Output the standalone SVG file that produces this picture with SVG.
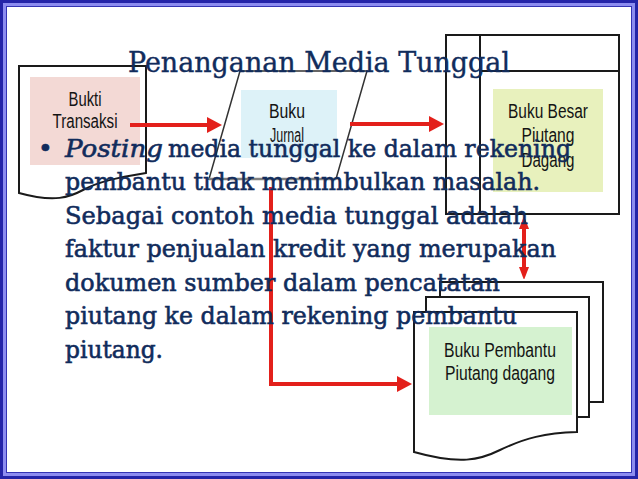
<svg xmlns="http://www.w3.org/2000/svg" width="638" height="479" viewBox="0 0 638 479">
<defs>
<style>
.lbl{font-family:"Liberation Sans",Arial,sans-serif;font-size:20px;fill:#141414;text-anchor:middle}
.shape{fill:#fff;stroke:#1a1a1a;stroke-width:2}
.conn{fill:none;stroke:#e3201b;stroke-width:4}
.body{font-family:"DejaVu Serif","Liberation Serif",serif;font-size:25px;fill:#112c5c;stroke:#112c5c;stroke-width:0.6}
.title{font-family:"DejaVu Serif","Liberation Serif",serif;font-size:28px;fill:#112c5c;stroke:#112c5c;stroke-width:0.4}
</style>
<marker id="ah" markerUnits="userSpaceOnUse" markerWidth="16" markerHeight="18" refX="3" refY="8" orient="auto-start-reverse">
<path d="M0,0 L15,8 L0,16 z" fill="#e3201b"/>
</marker>
<marker id="ahs" markerUnits="userSpaceOnUse" markerWidth="12" markerHeight="14" refX="3" refY="5" orient="auto-start-reverse">
<path d="M0,0 L13,5 L0,10 z" fill="#e3201b"/>
</marker>
</defs>
<rect width="638" height="479" fill="#fff"/>
<g id="frame" fill="none">
<rect x="1.5" y="1.5" width="635" height="476" stroke="#2424a8" stroke-width="3"/>
<rect x="4.5" y="4.5" width="629" height="470" stroke="#8c8cf0" stroke-width="3"/>
<rect x="6.5" y="6.5" width="625" height="466" stroke="#3434b4" stroke-width="1"/>
</g>
<g id="bukti-transaksi">
<path class="shape" d="M19,66 H146 V173 C115,178 98,182 83,190 C70,197 55,203 19,193 Z"/>
<rect x="30" y="77" width="110" height="88" fill="#f3d9d5"/>
<text class="lbl" x="85" y="106" textLength="33" lengthAdjust="spacingAndGlyphs">Bukti</text>
<text class="lbl" x="85" y="128" textLength="65" lengthAdjust="spacingAndGlyphs">Transaksi</text>
</g>
<g id="buku-jurnal">
<path d="M240,71 H367 L336,179 H209 Z" fill="#fff" stroke="#333" stroke-width="1.5"/>
<path d="M209,179 H336" stroke="#808080" stroke-width="2.5"/>
<rect x="241" y="90" width="96" height="68" fill="#ddf2f8"/>
<text class="lbl" x="287" y="118" textLength="36" lengthAdjust="spacingAndGlyphs">Buku</text>
<text class="lbl" x="287" y="142" textLength="34" lengthAdjust="spacingAndGlyphs">Jurnal</text>
</g>
<g id="buku-besar">
<rect class="shape" x="446" y="35" width="173" height="179"/>
<path d="M480,35 V214 M480,71 H619" stroke="#1a1a1a" stroke-width="2" fill="none"/>
<rect x="493" y="89" width="110" height="103" fill="#e8f1bd"/>
<text class="lbl" x="548" y="118" textLength="80" lengthAdjust="spacingAndGlyphs">Buku Besar</text>
<text class="lbl" x="548" y="142" textLength="53" lengthAdjust="spacingAndGlyphs">Piutang</text>
<text class="lbl" x="548" y="167" textLength="53" lengthAdjust="spacingAndGlyphs">Dagang</text>
</g>
<g id="buku-pembantu">
<rect class="shape" x="440" y="282" width="163" height="120"/>
<rect class="shape" x="426" y="297" width="163" height="120"/>
<path class="shape" d="M414,312 H577 V432 C545,433 525,438 500,450 C480,460 460,465 414,452 Z"/>
<rect x="429" y="327" width="143" height="88" fill="#d5f2d0"/>
<text class="lbl" x="500" y="357" textLength="112" lengthAdjust="spacingAndGlyphs">Buku Pembantu</text>
<text class="lbl" x="500" y="380" textLength="110" lengthAdjust="spacingAndGlyphs">Piutang dagang</text>
</g>
<g id="connectors">
<path class="conn" d="M130,125 H210" marker-end="url(#ah)"/>
<path class="conn" d="M350,124 H432" marker-end="url(#ah)"/>
<path class="conn" d="M271,187 V384 H400" marker-end="url(#ah)"/>
<path class="conn" d="M524,226 V270" stroke-width="3" marker-start="url(#ahs)" marker-end="url(#ahs)"/>
</g>
<g id="text">
<text class="title" x="128" y="72" textLength="382" lengthAdjust="spacingAndGlyphs">Penanganan Media Tunggal</text>
<text class="body" x="38" y="157">•</text>
<text class="body" x="65" y="157" font-style="italic" textLength="98" lengthAdjust="spacingAndGlyphs">Posting</text>
<text class="body" x="168" y="157" textLength="403" lengthAdjust="spacingAndGlyphs">media tunggal ke dalam rekening</text>
<text class="body" x="65" y="190" textLength="475" lengthAdjust="spacingAndGlyphs">pembantu tidak menimbulkan masalah.</text>
<text class="body" x="65" y="224" textLength="463" lengthAdjust="spacingAndGlyphs">Sebagai contoh media tunggal adalah</text>
<text class="body" x="65" y="257" textLength="491" lengthAdjust="spacingAndGlyphs">faktur penjualan kredit yang merupakan</text>
<text class="body" x="65" y="291" textLength="435" lengthAdjust="spacingAndGlyphs">dokumen sumber dalam pencatatan</text>
<text class="body" x="65" y="324" textLength="452" lengthAdjust="spacingAndGlyphs">piutang ke dalam rekening pembantu</text>
<text class="body" x="65" y="358" textLength="98" lengthAdjust="spacingAndGlyphs">piutang.</text>
</g>
</svg>
